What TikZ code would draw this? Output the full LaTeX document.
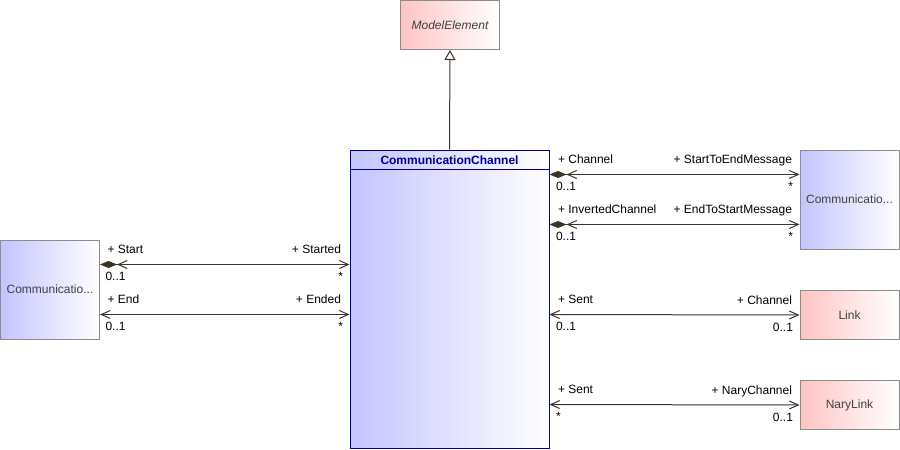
\documentclass[tikz,border=0pt]{standalone}
\usepackage{fontspec}
\setmainfont{Liberation Sans}
\usetikzlibrary{arrows.meta}
\definecolor{lnk}{RGB}{60,52,40}
\definecolor{pinkc}{RGB}{255,196,196}
\definecolor{lavc}{RGB}{196,196,255}
\definecolor{navyc}{RGB}{0,0,140}
\definecolor{txtc}{RGB}{64,64,64}
\definecolor{brd}{RGB}{140,140,140}
\begin{document}
\begin{tikzpicture}[x=1pt,y=-1pt,font=\fontsize{12}{14}\selectfont,
  cls/.style={draw=brd,line width=1pt,minimum width=99pt,text=txtc,inner sep=0pt},
  pinkbox/.style={cls,left color=pinkc,right color=white},
  lavbox/.style={cls,left color=lavc,right color=white},
  assoc/.style={draw=lnk,line width=1pt},
  comp/.style={assoc,{Diamond[length=17pt,width=7pt,fill=lnk]Straight Barb[length=9pt,width=8pt]}-{Straight Barb[length=9pt,width=8pt]}},
  nav/.style={assoc,{Straight Barb[length=9pt,width=8pt]}-{Straight Barb[length=9pt,width=8pt]}},
  gen/.style={assoc,-{Triangle[open,length=10pt,width=11pt,fill=white]}},
  lab/.style={inner sep=0pt,text=black}]
\useasboundingbox (0,0) rectangle (900,450);
% classes
\node[pinkbox,minimum height=49pt] (me) at (450,25) {\itshape ModelElement};
\node[draw=navyc,line width=1pt,left color=lavc,right color=white,minimum width=199pt,minimum height=298pt,inner sep=0pt] (cc) at (449.5,299) {};
\node[text=navyc,inner sep=0pt] (ccname) at (449.5,160.5) {\bfseries CommunicationChannel};
\draw[navyc,line width=1pt] ([yshift=-20]cc.north west) -- ([yshift=-20]cc.north east);
\node[lavbox,minimum height=99pt] (cr) at (849.5,199.5) {Communicatio...};
\node[lavbox,minimum height=99pt] (cl) at (50,289.5) {Communicatio...};
\node[pinkbox,minimum height=49pt] (link) at (849.5,315) {Link};
\node[pinkbox,minimum height=49pt] (nary) at (849.5,405) {NaryLink};
% generalization
\draw[gen] (cc.north) -- (me.south);
% associations right
\draw[comp] ([yshift=-25]cc.north east) -- ([yshift=-25]cr.north west)
  node[lab,at start,anchor=base west,xshift=8,yshift=11] {+ Channel}
  node[lab,at start,anchor=base west,xshift=6,yshift=-16] {0..1}
  node[lab,at end,anchor=base east,xshift=-7,yshift=11] {+ StartToEndMessage}
  node[lab,at end,anchor=base east,xshift=-6,yshift=-16] {*};
\draw[comp] ([yshift=-75]cc.north east) -- ([yshift=-75]cr.north west)
  node[lab,at start,anchor=base west,xshift=8,yshift=11] {+ InvertedChannel}
  node[lab,at start,anchor=base west,xshift=6,yshift=-16] {0..1}
  node[lab,at end,anchor=base east,xshift=-7,yshift=11] {+ EndToStartMessage}
  node[lab,at end,anchor=base east,xshift=-6,yshift=-16] {*};
\draw[nav] ([yshift=-165]cc.north east) -- (link.west)
  node[lab,at start,anchor=base west,xshift=8,yshift=11] {+ Sent}
  node[lab,at start,anchor=base west,xshift=6,yshift=-16] {0..1}
  node[lab,at end,anchor=base east,xshift=-7,yshift=11] {+ Channel}
  node[lab,at end,anchor=base east,xshift=-6,yshift=-16] {0..1};
\draw[nav] ([yshift=-255]cc.north east) -- (nary.west)
  node[lab,at start,anchor=base west,xshift=8,yshift=11] {+ Sent}
  node[lab,at start,anchor=base west,xshift=6,yshift=-16] {*}
  node[lab,at end,anchor=base east,xshift=-7,yshift=11] {+ NaryChannel}
  node[lab,at end,anchor=base east,xshift=-6,yshift=-16] {0..1};
% associations left
\draw[comp] ([yshift=-25]cl.north east) -- ([yshift=-115]cc.north west)
  node[lab,at start,anchor=base west,xshift=7,yshift=11] {+ Start}
  node[lab,at start,anchor=base west,xshift=5,yshift=-16] {0..1}
  node[lab,at end,anchor=base east,xshift=-8,yshift=11] {+ Started}
  node[lab,at end,anchor=base east,xshift=-6,yshift=-16] {*};
\draw[nav] ([yshift=-75]cl.north east) -- ([yshift=-165]cc.north west)
  node[lab,at start,anchor=base west,xshift=7,yshift=11] {+ End}
  node[lab,at start,anchor=base west,xshift=5,yshift=-16] {0..1}
  node[lab,at end,anchor=base east,xshift=-8,yshift=11] {+ Ended}
  node[lab,at end,anchor=base east,xshift=-6,yshift=-16] {*};
\end{tikzpicture}
\end{document}
